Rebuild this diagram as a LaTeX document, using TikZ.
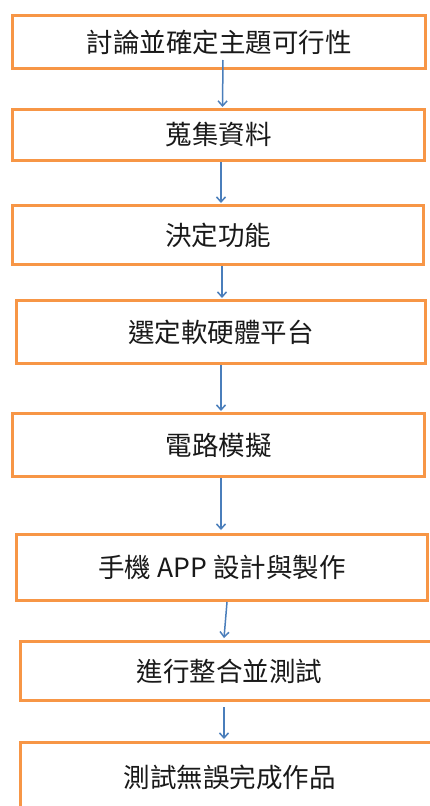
\documentclass[tikz,border=0pt]{standalone}
\usepackage{fontspec}
\setmainfont{Noto Sans CJK TC}
\usetikzlibrary{arrows.meta}
\definecolor{boxorange}{HTML}{F79646}
\definecolor{arrblue}{HTML}{4A7EBB}
\tikzset{
  box/.style={draw=boxorange, line width=3pt, fill=white, inner sep=0pt,
    font=\fontsize{26.5pt}{30pt}\selectfont, text=black!90},
  arr/.style={draw=arrblue, line width=1.5pt, -{Straight Barb[length=5pt,width=9pt,line width=1.5pt]}}
}
\begin{document}
\begin{tikzpicture}[x=1pt,y=-1pt]
\useasboundingbox (0,0) rectangle (430,806);
\clip (0,0) rectangle (430,806);
\fill[white] (0,0) rectangle (430,806);
\node[box, minimum width=413pt, minimum height=53pt] (b1) at (219,42) {討論並確定主題可行性};
\node[box, minimum width=412pt, minimum height=51pt] (b2) at (218.5,135) {蒐集資料};
\node[box, minimum width=411pt, minimum height=59pt] (b3) at (218,235) {決定功能};
\node[box, minimum width=409pt, minimum height=63pt] (b4) at (221,332) {選定軟硬體平台};
\node[box, minimum width=412pt, minimum height=63pt] (b5) at (218.5,445) {電路模擬};
\node[box, minimum width=411pt, minimum height=66pt] (b6) at (222,567.5) {手機 APP 設計與製作};
\node[box, minimum width=418pt, minimum height=59pt] (b7) at (229.5,671) {進行整合並測試};
\node[box, minimum width=418pt, minimum height=69pt] (b8) at (229.5,777) {測試無誤完成作品};
\draw[arr] ([xshift=4pt,yshift=10pt]b1.south) -- ([xshift=4pt,yshift=1pt]b2.north);
\draw[arr] ([xshift=2.5pt]b2.south) -- ([xshift=3pt,yshift=1pt]b3.north);
\draw[arr] ([xshift=4pt]b3.south) -- ([xshift=1pt,yshift=1pt]b4.north);
\draw[arr] (b4.south) -- ([xshift=2.5pt,yshift=1pt]b5.north);
\draw[arr] ([xshift=2.5pt]b5.south) -- ([xshift=-1pt,yshift=3pt]b6.north);
\draw[arr] ([xshift=5pt]b6.south) -- ([xshift=-5.5pt,yshift=2pt]b7.north);
\draw[arr] ([xshift=-5.5pt,yshift=-5pt]b7.south) -- ([xshift=-5.5pt,yshift=2pt]b8.north);
\end{tikzpicture}
\end{document}
